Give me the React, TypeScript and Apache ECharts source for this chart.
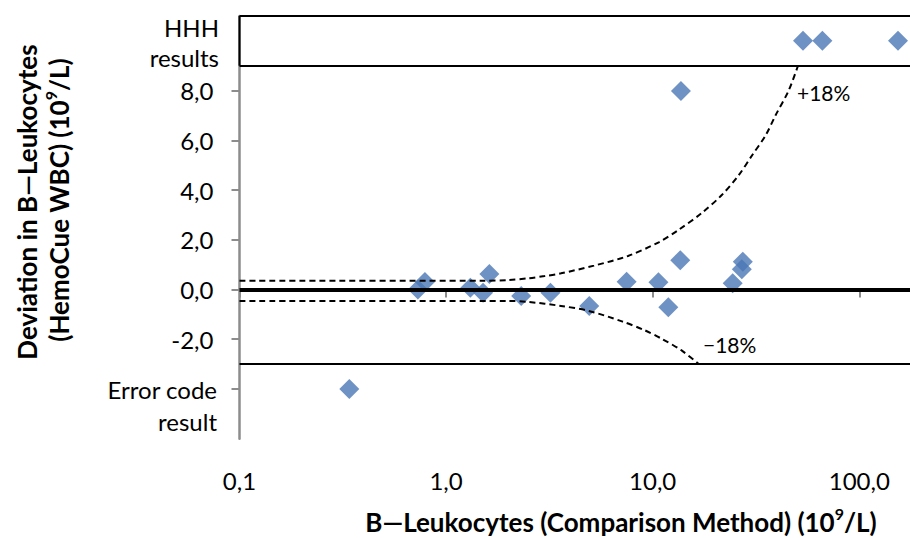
import React, { useEffect, useRef } from "react";
import * as echarts from "echarts";

// Measured points (x: comparison method, y: deviation)
const pointX = [0.34, 0.73, 0.79, 1.31, 1.51, 1.62, 2.31, 3.2, 4.93, 7.48, 10.66, 11.9, 13.6, 13.7, 24.4, 27.0, 27.3, 53.4, 66.3, 154];
const pointY = [-4, 0.0, 0.3, 0.07, -0.13, 0.62, -0.26, -0.13, -0.66, 0.31, 0.29, -0.71, 1.18, 7.98, 0.25, 0.81, 1.12, 10, 10, 10];

// +18% limit curve
const upperX = [0.1, 1.5, 2.0, 2.5, 3.0, 3.6, 5.2, 7.6, 10.7, 13.3, 17.3, 21.6, 26.1, 30.3, 35.2, 39.3, 45.5, 50.5];
const upperY = [0.35, 0.35, 0.38, 0.45, 0.54, 0.65, 0.96, 1.35, 1.9, 2.39, 3.08, 3.8, 4.6, 5.4, 6.2, 7.0, 8.0, 9.0];

// -18% limit curve
const lowerX = [0.1, 2.0, 2.5, 3.6, 4.9, 7.1, 9.1, 11.0, 13.8, 16.7];
const lowerY = [-0.46, -0.46, -0.5, -0.66, -0.86, -1.28, -1.63, -1.97, -2.45, -3.0];

// Axis ticks / labels
const xTickValues = [0.1, 1, 10, 100];
const yTickValues = [-4, -2, 0, 2, 4, 6, 8];
const yLabelValues = [-2, 0, 2, 4, 6, 8];
const hhhLevel = 9;
const topLevel = 11;
const errorLevel = -3;

const FONT = "Lato, 'Open Sans', sans-serif";
const AXIS_GRAY = "#8c8c8c";
const BLUE = "#4a77b4";

const fmt = (v: number) => v.toFixed(1).replace(".", ",");

const titleRich = {
  b: { fontSize: 26, fontWeight: "bold", fontFamily: FONT, fill: "#000", lineHeight: 30, verticalAlign: "bottom" },
  sup: { fontSize: 16, fontWeight: "bold", fontFamily: FONT, fill: "#000", lineHeight: 22, verticalAlign: "top" },
};

export default function App() {
  const ref = useRef<HTMLDivElement>(null);
  useEffect(() => {
    if (!ref.current) return;
    const chart = echarts.init(ref.current, undefined, { renderer: "svg" });
    const option: any = {
      animation: false,
      grid: { left: 239.5, right: 0, top: 16, bottom: 99.3 },
      xAxis: {
        type: "log",
        logBase: 10,
        min: 0.1,
        max: 176,
        splitLine: { show: false },
        axisLine: { lineStyle: { color: AXIS_GRAY, width: 2.5 } },
        axisTick: { show: true, length: 8, customValues: xTickValues, lineStyle: { color: AXIS_GRAY, width: 2 } },
        axisLabel: {
          customValues: xTickValues,
          formatter: (v: number) => fmt(v),
          margin: 30,
          fontSize: 24,
          fontFamily: FONT,
          color: "#000",
        },
      },
      yAxis: {
        type: "value",
        min: -6,
        max: 11,
        interval: 2,
        splitLine: { show: false },
        axisLine: { lineStyle: { color: AXIS_GRAY, width: 2.5 } },
        axisTick: { show: true, length: 8, customValues: yTickValues, lineStyle: { color: AXIS_GRAY, width: 2 } },
        axisLabel: {
          customValues: yLabelValues,
          formatter: (v: number) => fmt(v),
          margin: 26,
          fontSize: 24,
          fontFamily: FONT,
          color: "#000",
        },
      },
      series: [
        {
          type: "scatter",
          symbol: "diamond",
          symbolSize: 20,
          itemStyle: { color: BLUE },
          data: pointX.map((x, i) => [x, pointY[i]]),
          z: 2,
        },
        {
          type: "line",
          data: upperX.map((x, i) => [x, upperY[i]]),
          showSymbol: false,
          smooth: 0.3,
          lineStyle: { color: "#000", width: 2, type: [6, 4] },
          z: 3,
          clip: false,
        },
        {
          type: "line",
          data: lowerX.map((x, i) => [x, lowerY[i]]),
          showSymbol: false,
          smooth: 0.3,
          lineStyle: { color: "#000", width: 2, type: [6, 4] },
          z: 3,
          clip: false,
        },
        {
          type: "line",
          data: [[0.1, hhhLevel], [0.1, topLevel]],
          showSymbol: false,
          lineStyle: { color: "#000", width: 2 },
          z: 4,
          clip: false,
          markLine: {
            silent: true,
            symbol: "none",
            label: { show: false },
            lineStyle: { color: "#000", width: 2, type: "solid" },
            data: [
              { yAxis: topLevel },
              { yAxis: hhhLevel },
              { yAxis: errorLevel },
              { yAxis: 0, lineStyle: { color: "#000", width: 4, type: "solid" } },
            ],
          },
        },
      ],
      graphic: [
        {
          type: "text",
          x: 219,
          y: 42,
          style: { text: "HHH\nresults", align: "right", verticalAlign: "middle", lineHeight: 30, fontSize: 24, fontFamily: FONT, fill: "#000" },
        },
        {
          type: "text",
          x: 217,
          y: 405,
          style: { text: "Error code\nresult", align: "right", verticalAlign: "middle", lineHeight: 32, fontSize: 24, fontFamily: FONT, fill: "#000" },
        },
        {
          type: "text",
          x: 797,
          y: 92,
          style: { text: "+18%", align: "left", verticalAlign: "middle", fontSize: 21, fontFamily: FONT, fill: "#000" },
        },
        {
          type: "text",
          x: 703,
          y: 344,
          style: { text: "\u221218%", align: "left", verticalAlign: "middle", fontSize: 21, fontFamily: FONT, fill: "#000" },
        },
        {
          type: "text",
          x: 621,
          y: 520,
          style: {
            text: "{b|B\u2014Leukocytes (Comparison Method) (10}{sup|9}{b|/L)}",
            align: "center",
            verticalAlign: "middle",
            rich: titleRich,
          },
        },
        {
          type: "text",
          x: 25,
          y: 202,
          rotation: Math.PI / 2,
          style: {
            text: "{b|Deviation in B\u2014Leukocytes}",
            align: "center",
            verticalAlign: "middle",
            rich: titleRich,
          },
        },
        {
          type: "text",
          x: 57,
          y: 200,
          rotation: Math.PI / 2,
          style: {
            text: "{b|(HemoCue WBC) (10}{sup|9}{b|/L)}",
            align: "center",
            verticalAlign: "middle",
            rich: titleRich,
          },
        },
      ],
    };
    chart.setOption(option);
    return () => chart.dispose();
  }, []);
  return <div ref={ref} style={{ position: "absolute", left: 0, top: 0, width: 910, height: 538 }} />;
}
